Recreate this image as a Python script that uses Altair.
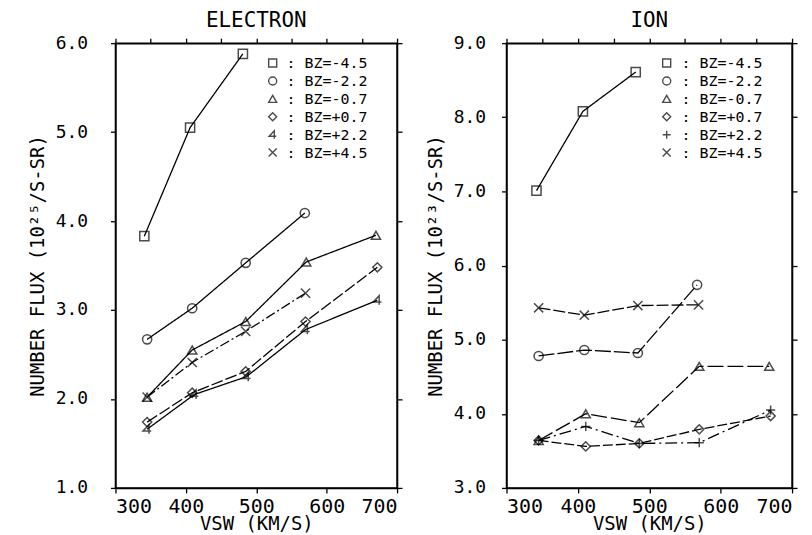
import altair as alt
import pandas as pd

FONT = "DejaVu Sans Mono"

series = ["BZ=-4.5", "BZ=-2.2", "BZ=-0.7", "BZ=+0.7", "BZ=+2.2", "BZ=+4.5"]

# ELECTRON panel (10^25 /S-SR)
e_m45_x = [341, 406, 481]
e_m45_y = [3.83, 5.05, 5.88]
e_m22_x = [345, 409, 485, 569]
e_m22_y = [2.67, 3.02, 3.53, 4.09]
e_m07_x = [345, 409, 485, 571, 670]
e_m07_y = [2.02, 2.55, 2.87, 3.54, 3.84]
e_p07_x = [345, 409, 485, 570, 672]
e_p07_y = [1.74, 2.07, 2.31, 2.87, 3.48]
e_p22_x = [345, 412, 486, 570, 672]
e_p22_y = [1.66, 2.05, 2.25, 2.78, 3.11]
e_p45_x = [345, 409, 485, 570]
e_p45_y = [2.02, 2.41, 2.76, 3.19]

# ION panel (10^23 /S-SR)
i_m45_x = [342, 407, 481]
i_m45_y = [7.01, 8.08, 8.61]
i_m22_x = [345, 409, 484, 567]
i_m22_y = [4.78, 4.86, 4.82, 5.74]
i_m07_x = [345, 411, 486, 570, 668]
i_m07_y = [3.64, 4.00, 3.88, 4.64, 4.64]
i_p07_x = [345, 411, 486, 570, 670]
i_p07_y = [3.64, 3.56, 3.60, 3.79, 3.97]
i_p22_x = [345, 411, 486, 570, 670]
i_p22_y = [3.64, 3.83, 3.60, 3.61, 4.05]
i_p45_x = [345, 409, 484, 569]
i_p45_y = [5.43, 5.33, 5.46, 5.47]

x_ticks = [300, 350, 400, 450, 500, 550, 600, 650, 700]
e_y_ticks = [1.0, 2.0, 3.0, 4.0, 5.0, 6.0]
i_y_ticks = [3.0, 4.0, 5.0, 6.0, 7.0, 8.0, 9.0]


def frame(xs_list, ys_list):
    rows = []
    for name, xs, ys in zip(series, xs_list, ys_list):
        for x, y in zip(xs, ys):
            rows.append({"bz": name, "dash": name, "vsw": x, "flux": y})
    return pd.DataFrame(rows)


e_df = frame([e_m45_x, e_m22_x, e_m07_x, e_p07_x, e_p22_x, e_p45_x],
             [e_m45_y, e_m22_y, e_m07_y, e_p07_y, e_p22_y, e_p45_y])
i_df = frame([i_m45_x, i_m22_x, i_m07_x, i_p07_x, i_p22_x, i_p45_x],
             [i_m45_y, i_m22_y, i_m07_y, i_p07_y, i_p22_y, i_p45_y])
leg_df = pd.DataFrame({"bz": series})

PLUS = "M0,-1L0,1M-1,0L1,0"
XMARK = "M-1,-1L1,1M-1,1L1,-1"
FOUR = "M0.4,1L0.4,-1L-0.9,0.4L0.9,0.4"

e_shapes = ["square", "circle", "triangle-up", "diamond", FOUR, XMARK]
i_shapes = ["square", "circle", "triangle-up", "diamond", PLUS, XMARK]
e_dashes = [[1, 0], [1, 0], [1, 0], [12, 3], [1, 0], [10, 3, 2, 3]]
i_dashes = [[1, 0], [16, 3], [16, 4], [10, 3], [12, 4, 2, 4], [12, 3]]


def panel(df, title, ydom, yticks, ytitle, shapes, dashes, w, h, ylabpad, leg_sym_x, leg_txt_x):
    xs = alt.Scale(domain=[300, 700], nice=False, zero=False)
    ys = alt.Scale(domain=ydom, nice=False, zero=False)
    shape_scale = alt.Scale(domain=series, range=shapes)
    xaxis = alt.Axis(values=x_ticks, labelExpr="datum.value % 100 == 0 ? datum.label : ''",
                     title="VSW (KM/S)", labelFontSize=20, titleFontSize=19,
                     labelPadding=4, titlePadding=-2, grid=False,
                     tickSize=5, labelFont=FONT, titleFont=FONT, titleFontWeight="normal")
    yaxis = alt.Axis(values=yticks, format=".1f", title=ytitle, labelFontSize=18,
                     titleFontSize=19, labelPadding=ylabpad, titlePadding=8, grid=False,
                     tickSize=5, labelFont=FONT, titleFont=FONT, titleFontWeight="normal")
    lines = alt.Chart(df).mark_line(color="black", strokeWidth=1.3).encode(
        x=alt.X("vsw:Q", scale=xs, axis=xaxis),
        y=alt.Y("flux:Q", scale=ys, axis=yaxis),
        detail="bz:N",
        strokeDash=alt.StrokeDash("dash:N", scale=alt.Scale(domain=series, range=dashes), legend=None),
    )
    pts = alt.Chart(df).mark_point(filled=False, color="black", size=85, strokeWidth=1.5).encode(
        x=alt.X("vsw:Q", scale=xs),
        y=alt.Y("flux:Q", scale=ys),
        shape=alt.Shape("bz:N", scale=shape_scale, legend=None),
    )
    top = alt.Chart(df).mark_point(opacity=0).encode(
        x=alt.X("vsw:Q", scale=xs, axis=alt.Axis(orient="top", values=x_ticks, labels=False,
                                                 title="", grid=False, tickSize=5)),
        y=alt.Y("flux:Q", scale=ys, axis=alt.Axis(orient="right", values=yticks, labels=False,
                                                  title="", grid=False, tickSize=5)),
    )
    plot = alt.layer(alt.layer(lines, pts), top).resolve_axis(x="independent", y="independent")

    leg_y = alt.Y("bz:N", scale=alt.Scale(domain=series, range=[20, 110], type="point", padding=0),
                  axis=None)
    leg_pts = alt.Chart(leg_df).mark_point(filled=False, color="black", size=65, strokeWidth=1.4).encode(
        x=alt.value(leg_sym_x), y=leg_y,
        shape=alt.Shape("bz:N", scale=shape_scale, legend=None),
    )
    leg_txt = alt.Chart(leg_df).transform_calculate(lab="': ' + datum.bz").mark_text(
        align="left", baseline="middle", font=FONT, fontSize=15, color="black"
    ).encode(x=alt.value(leg_txt_x), y=leg_y, text="lab:N")
    legend = alt.layer(leg_pts, leg_txt)

    return alt.layer(plot, legend).resolve_scale(y="independent").properties(
        width=w, height=h,
        title=alt.TitleParams(title, font=FONT, fontSize=21, fontWeight="normal", offset=3, color="black"),
    )


left = panel(e_df, "ELECTRON", [1.0, 6.0], e_y_ticks, "NUMBER FLUX (10²⁵/S-SR)",
             e_shapes, e_dashes, 283, 447, 23, 158, 172)
right = panel(i_df, "ION", [3.0, 9.0], i_y_ticks, "NUMBER FLUX (10²³/S-SR)",
              i_shapes, i_dashes, 287, 447, 16, 161, 176)

chart = alt.hconcat(left, right, spacing=21).resolve_scale(
    shape="independent", strokeDash="independent"
).properties(
    padding={"left": 19, "top": 0, "right": 5, "bottom": 0},
    background="white",
).configure_view(stroke="black", strokeWidth=1.5).configure_axis(
    domainColor="black", domainWidth=1.5, tickColor="black", tickWidth=1.3,
    labelColor="black", titleColor="black",
)

chart.save("out.html", embed_options={"renderer": "svg", "actions": False})
